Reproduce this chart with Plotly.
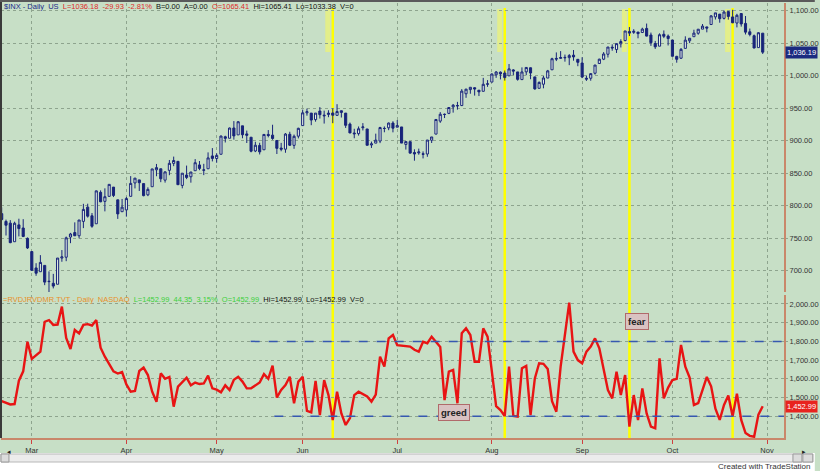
import plotly.graph_objects as go

# ---------------- DATA ----------------
months = ["Feb", "Mar", "Apr", "May", "Jun", "Jul", "Aug", "Sep", "Oct"]
trade_days = [
    [19, 20, 23, 24, 25, 26, 27],
    [2, 3, 4, 5, 6, 9, 10, 11, 12, 13, 16, 17, 18, 19, 20, 23, 24, 25, 26, 27, 30, 31],
    [1, 2, 3, 6, 7, 8, 9, 13, 14, 15, 16, 17, 20, 21, 22, 23, 24, 27, 28, 29, 30],
    [1, 4, 5, 6, 7, 8, 11, 12, 13, 14, 15, 18, 19, 20, 21, 22, 26, 27, 28, 29],
    [1, 2, 3, 4, 5, 8, 9, 10, 11, 12, 15, 16, 17, 18, 19, 22, 23, 24, 25, 26, 29, 30],
    [1, 2, 6, 7, 8, 9, 10, 13, 14, 15, 16, 17, 20, 21, 22, 23, 24, 27, 28, 29, 30, 31],
    [3, 4, 5, 6, 7, 10, 11, 12, 13, 14, 17, 18, 19, 20, 21, 24, 25, 26, 27, 28, 31],
    [1, 2, 3, 4, 8, 9, 10, 11, 14, 15, 16, 17, 18, 21, 22, 23, 24, 25, 28, 29, 30],
    [1, 2, 5, 6, 7, 8, 9, 12, 13, 14, 15, 16, 19, 20, 21, 22, 23, 26, 27, 28, 29, 30],
]
dates = [f"{m} {d}" for m, days in zip(months, trade_days) for d in days]

opens = [
    787.9, 775.9, 773.3, 744.7, 770.6, 765.8, 749.9,
    729.6, 704.4, 698.6, 708.3, 684.0, 680.8, 679.3, 719.6, 720.9, 751.9, 758.8, 753.9, 776.0, 797.9, 784.6, 772.3, 820.6, 806.8, 814.5, 828.7, 809.1, 790.9,
    793.6, 814.5, 835.1, 839.8, 834.1, 816.8, 829.3, 855.3, 856.9, 839.4, 854.5, 865.2, 868.3, 831.3, 847.3, 844.6, 853.9, 862.8, 854.5, 856.9, 876.6,
    872.7, 879.2, 906.1, 903.8, 919.6, 909.0, 922.9, 910.5, 905.4, 884.2, 892.8, 886.1, 909.7, 908.6, 900.4, 888.7, 887.0, 909.9, 892.9, 907.0,
    923.3, 942.9, 942.5, 932.5, 945.7, 938.1, 940.4, 942.7, 939.0, 943.4, 942.5, 925.6, 911.9, 910.9, 920.0, 918.1, 893.5, 896.3, 899.5, 918.8, 919.9, 927.2,
    920.8, 921.2, 894.3, 898.6, 881.9, 881.3, 880.0, 879.6, 900.8, 910.2, 930.2, 940.6, 942.1, 952.0, 953.4, 954.1, 972.2, 978.6, 981.5, 977.7, 976.0, 986.8,
    990.2, 1001.4, 1005.4, 1004.1, 999.8, 1008.9, 1005.8, 994.0, 1005.9, 1012.2, 998.2, 980.6, 986.9, 996.4, 1009.1, 1026.6, 1026.6, 1027.4, 1027.8, 1031.6, 1025.2,
    1019.5, 996.1, 996.1, 1003.8, 1018.7, 1025.4, 1033.0, 1043.9, 1040.2, 1049.0, 1054.0, 1067.9, 1066.6, 1067.1, 1066.4, 1072.7, 1062.6, 1049.5, 1045.4, 1063.7, 1061.0,
    1054.9, 1029.7, 1026.9, 1042.0, 1053.7, 1060.0, 1065.3, 1071.6, 1075.0, 1078.7, 1090.4, 1094.7, 1088.2, 1098.6, 1090.4, 1081.0, 1095.6, 1080.4, 1067.5, 1061.5, 1043.2, 1065.4,
]
highs = [
    797.6, 778.7, 777.9, 775.5, 780.1, 779.4, 751.3,
    729.6, 711.7, 724.1, 708.3, 699.1, 695.3, 719.6, 731.9, 752.6, 758.3, 774.5, 778.1, 803.0, 803.2, 788.9, 823.4, 823.7, 826.8, 832.9, 828.7, 809.1, 810.5,
    813.6, 845.6, 842.5, 839.8, 834.1, 828.4, 856.9, 864.3, 856.9, 852.9, 870.4, 875.6, 868.3, 850.1, 861.8, 852.0, 871.8, 868.8, 864.5, 882.1, 888.7,
    880.5, 907.9, 907.7, 920.3, 930.2, 930.2, 922.9, 915.6, 905.4, 898.4, 896.9, 910.0, 916.4, 924.6, 900.4, 896.7, 911.8, 913.8, 909.5, 920.0,
    947.8, 949.4, 942.5, 942.5, 951.7, 946.3, 946.9, 949.8, 956.2, 946.3, 942.5, 928.0, 918.4, 921.9, 927.1, 918.1, 898.7, 910.9, 921.4, 922.0, 928.0, 930.0,
    931.9, 921.2, 898.7, 898.6, 886.8, 887.9, 883.6, 901.1, 905.8, 933.0, 944.0, 941.9, 951.6, 956.5, 959.8, 979.4, 979.8, 982.5, 982.3, 977.8, 996.7, 993.2,
    1003.6, 1007.1, 1006.6, 1008.0, 1018.0, 1010.1, 1005.8, 1012.8, 1013.1, 1012.6, 998.2, 991.2, 999.6, 1008.9, 1027.6, 1035.8, 1037.8, 1032.5, 1033.3, 1039.5, 1025.2,
    1028.4, 1000.3, 1003.4, 1016.5, 1026.1, 1036.3, 1044.1, 1048.2, 1049.7, 1056.0, 1068.8, 1074.8, 1071.5, 1067.3, 1073.8, 1080.2, 1066.3, 1053.5, 1065.1, 1069.6, 1063.4,
    1054.9, 1030.6, 1042.6, 1060.6, 1058.0, 1070.7, 1071.5, 1079.5, 1075.3, 1093.2, 1096.6, 1094.7, 1100.2, 1098.6, 1101.4, 1095.2, 1095.8, 1091.8, 1072.5, 1063.3, 1066.8, 1065.4,
]
lows = [
    777.0, 754.3, 742.4, 744.7, 752.9, 751.8, 733.6,
    699.7, 692.3, 698.6, 677.9, 666.8, 672.9, 679.3, 713.9, 714.8, 742.5, 753.4, 749.9, 765.6, 781.8, 766.2, 772.3, 805.5, 791.4, 814.1, 813.4, 779.8, 790.9,
    783.3, 814.5, 826.7, 822.8, 814.5, 814.8, 829.3, 845.4, 836.3, 835.6, 847.0, 860.9, 832.4, 826.8, 841.0, 835.5, 853.9, 854.7, 847.1, 856.9, 868.2,
    866.1, 879.2, 897.3, 903.8, 901.7, 909.0, 903.8, 896.5, 882.2, 882.5, 878.9, 886.1, 905.2, 901.4, 879.6, 883.8, 881.5, 891.9, 887.6, 903.6,
    923.3, 938.5, 923.9, 929.3, 934.1, 926.4, 936.2, 927.0, 939.0, 935.7, 919.7, 911.6, 903.8, 907.9, 915.8, 893.0, 888.9, 896.3, 896.3, 913.0, 916.2, 912.9,
    920.8, 896.4, 886.4, 879.9, 869.3, 878.5, 872.8, 875.3, 896.5, 910.2, 927.5, 934.9, 940.9, 943.2, 947.8, 953.3, 966.0, 972.3, 969.4, 968.7, 976.0, 982.9,
    990.2, 996.7, 994.3, 992.5, 999.8, 1001.0, 992.4, 993.4, 1000.8, 994.6, 978.5, 980.6, 980.6, 996.4, 1009.1, 1022.5, 1026.2, 1021.6, 1016.2, 1023.1, 1014.6,
    996.3, 992.0, 992.3, 1001.7, 1018.7, 1024.0, 1028.0, 1038.4, 1035.0, 1043.4, 1052.9, 1061.0, 1064.3, 1057.5, 1066.4, 1060.4, 1045.9, 1041.2, 1045.4, 1057.8, 1046.5,
    1029.4, 1020.0, 1025.9, 1042.0, 1050.1, 1060.0, 1063.0, 1071.6, 1066.7, 1078.7, 1086.4, 1081.5, 1086.5, 1086.2, 1080.8, 1074.3, 1075.5, 1063.4, 1060.6, 1042.2, 1043.2, 1033.4,
]
closes = [
    778.9, 770.1, 743.3, 773.1, 764.9, 752.8, 735.1,
    700.8, 696.3, 712.9, 682.6, 683.4, 676.5, 719.6, 721.4, 750.7, 756.6, 753.9, 778.1, 794.4, 784.0, 768.5, 822.9, 806.1, 813.9, 832.9, 815.9, 787.5, 797.9,
    811.1, 834.4, 842.5, 835.5, 815.6, 825.2, 856.6, 858.7, 841.5, 852.1, 865.3, 869.6, 832.4, 850.1, 843.6, 851.9, 866.2, 857.5, 855.2, 873.6, 872.8,
    877.5, 907.2, 903.8, 919.5, 907.4, 929.2, 909.2, 908.4, 883.9, 893.1, 882.9, 909.7, 908.1, 903.5, 888.3, 887.0, 910.3, 893.1, 906.8, 919.1,
    942.9, 944.7, 931.8, 942.5, 940.1, 939.1, 942.4, 939.2, 944.9, 946.2, 923.7, 912.0, 910.7, 918.4, 921.2, 893.0, 895.1, 900.9, 920.3, 918.9, 927.2, 919.3,
    923.3, 896.4, 898.7, 881.0, 879.6, 882.7, 879.1, 901.1, 905.8, 932.7, 940.7, 940.4, 951.1, 954.6, 954.1, 976.3, 979.3, 982.2, 979.6, 975.2, 986.8, 987.5,
    1002.6, 1005.7, 1002.7, 997.1, 1010.5, 1007.1, 994.4, 1005.8, 1012.7, 1004.1, 979.7, 989.7, 996.5, 1007.4, 1026.1, 1025.6, 1028.0, 1028.1, 1031.0, 1028.9, 1020.6,
    998.0, 994.8, 1003.2, 1016.4, 1025.4, 1033.4, 1044.1, 1042.7, 1049.3, 1052.6, 1068.8, 1065.5, 1068.3, 1064.7, 1071.7, 1060.9, 1050.8, 1044.4, 1063.0, 1060.6, 1057.1,
    1029.9, 1025.2, 1040.5, 1054.7, 1057.6, 1065.5, 1071.5, 1076.2, 1073.2, 1092.0, 1096.6, 1087.7, 1097.9, 1091.1, 1081.4, 1092.9, 1079.6, 1067.0, 1063.4, 1042.6, 1066.1, 1036.2,
]
ratio = [
    1481, 1470, 1463, 1465, 1590, 1640, 1798, 1706, 1725, 1745,
    1905, 1914, 1888, 1890, 1986, 1818, 1759, 1861, 1843, 1888,
    1892, 1885, 1914, 1766, 1718, 1680, 1640, 1628, 1636, 1570,
    1531, 1535, 1642, 1660, 1620, 1531, 1477, 1629, 1600, 1610,
    1451, 1558, 1585, 1606, 1565, 1580, 1572, 1575, 1617, 1549,
    1542, 1528, 1565, 1540, 1595, 1611, 1585, 1549, 1549, 1565,
    1580, 1625, 1600, 1670, 1500, 1540, 1567, 1611, 1469, 1585,
    1611, 1428, 1420, 1589, 1406, 1593, 1513, 1379, 1531, 1415,
    1353, 1390, 1513, 1531, 1520, 1505, 1478, 1515, 1718, 1665,
    1816, 1834, 1780, 1778, 1778, 1772, 1755, 1745, 1798, 1790,
    1825, 1800, 1770, 1486, 1638, 1647, 1469, 1843, 1870, 1834,
    1691, 1691, 1870, 1825, 1638, 1454, 1433, 1401, 1665, 1401,
    1398, 1656, 1669, 1406, 1602, 1683, 1680, 1652, 1480, 1424,
    1665, 1843, 2007, 1745, 1700, 1683, 1745, 1772, 1816, 1763,
    1650, 1540, 1495, 1638, 1513, 1620, 1344, 1513, 1379, 1549,
    1415, 1344, 1335, 1709, 1495, 1553, 1593, 1600, 1781, 1665,
    1607, 1460, 1470, 1540, 1610, 1560, 1440, 1380, 1460, 1510,
    1400, 1520, 1380, 1310, 1295, 1290, 1408.64, 1452.99,
]
month_labels = ["Mar", "Apr", "May", "Jun", "Jul", "Aug", "Sep", "Oct", "Nov"]
marker_dates = ["Jun 10", "Aug 6", "Sep 17", "Oct 21"]
fear_level = 1800
greed_level = 1400
price_ticks = [700, 750, 800, 850, 900, 950, 1000, 1050, 1100]
ratio_ticks = [1400, 1500, 1600, 1700, 1800, 1900, 2000]

# ---------------- LAYOUT HELPERS ----------------
W, H = 820, 471
ML, MR, MT, MB = 1, 31, 3, 33
PW, PH = W - ML - MR, H - MT - MB


def px(x):
    return (x - ML) / PW


def py(y):
    return (H - MB - y) / PH


xs = list(range(len(dates)))
month_pos = [next(i for i, d in enumerate(dates) if d.startswith(m)) for m in month_labels[:-1]]
month_pos.append(len(dates))
marker_pos = [dates.index(d) for d in marker_dates]

BG = "#c7dfc6"
GRID = "#8ea48e"
AXIS = "#c9876a"
NAVY = "#18247a"
FONT = "Liberation Sans, Arial, sans-serif"
NARROW = "Liberation Sans Narrow, Arial Narrow, Liberation Sans, sans-serif"

fig = go.Figure()
fig.add_trace(go.Candlestick(
    x=xs, open=opens, high=highs, low=lows, close=closes,
    xaxis="x", yaxis="y",
    increasing=dict(line=dict(color=NAVY, width=1), fillcolor="#e4eee4"),
    decreasing=dict(line=dict(color=NAVY, width=1), fillcolor=NAVY),
    whiskerwidth=0, showlegend=False, hoverinfo="skip",
))
fig.add_trace(go.Scatter(
    x=xs, y=ratio, mode="lines", xaxis="x", yaxis="y2",
    line=dict(color="#e81414", width=2.4), showlegend=False, hoverinfo="skip",
))

shapes = []
shapes.append(dict(type="rect", xref="paper", yref="paper", x0=px(0), x1=px(W), y0=py(H), y1=py(453),
                   fillcolor="white", line=dict(width=0), layer="below"))
shapes.append(dict(type="rect", xref="paper", yref="paper", x0=px(1), x1=px(818), y0=py(462), y1=py(454),
                   fillcolor="#ececec", line=dict(color="#b8b8b8", width=1), layer="below"))
for a, b in [(1, 9), (798, 807), (808, 818)]:
    shapes.append(dict(type="rect", xref="paper", yref="paper", x0=px(a), x1=px(b), y0=py(462), y1=py(454),
                       fillcolor="#dcdcdc", line=dict(color="#9a9a9a", width=1), layer="below"))
shapes.append(dict(type="line", xref="paper", yref="paper", x0=px(1), x1=px(1), y0=py(438), y1=py(0),
                   line=dict(color="#3a3a3a", width=2)))
shapes.append(dict(type="line", xref="paper", yref="paper", x0=px(0), x1=px(W), y0=py(1), y1=py(1),
                   line=dict(color="#5a5a5a", width=2)))
for p in marker_pos:
    shapes.append(dict(type="line", xref="x", yref="paper", x0=p, x1=p, y0=0, y1=py(8),
                       line=dict(color="#ffff00", width=2.5), layer="below"))
    shapes.append(dict(type="rect", xref="x", yref="paper", x0=p - 1.75, x1=p - 0.6, y0=py(52), y1=py(9),
                       fillcolor="rgba(250,250,90,0.55)", line=dict(width=0), layer="below"))
shapes.append(dict(type="line", xref="x", yref="y2", x0=57.9, x1=181.94, y0=fear_level, y1=fear_level,
                   line=dict(color="#3658b0", width=1.5, dash="dash")))
shapes.append(dict(type="line", xref="x", yref="y2", x0=63.4, x1=181.94, y0=greed_level, y1=greed_level,
                   line=dict(color="#3658b0", width=1.5, dash="dash")))

annotations = [
    dict(xref="paper", yref="paper", x=px(2), y=py(6), xanchor="left", yanchor="middle", showarrow=False,
         font=dict(family=FONT, size=7.5),
         text=("<span style='color:#1a2a8a'>$INX - Daily</span>  <span style='color:#1a2a8a'>US</span>  "
               "<span style='color:#e02a2a'>L=1036.18  -29.93  -2.81%</span>  "
               "<span style='color:#111'>B=0.00  A=0.00</span>  <span style='color:#e02a2a'>O=1065.41</span>  "
               "<span style='color:#111'>Hi=1065.41  Lo=1033.38  V=0</span>")),
    dict(xref="paper", yref="paper", x=px(1), y=py(299), xanchor="left", yanchor="middle", showarrow=False,
         font=dict(family=FONT, size=7.5),
         text=("<span style='color:#e8902a'>=RVDJRVDMR.TVT - Daily  NASDAQ</span>  "
               "<span style='color:#3ccf3c'>L=1452.99  44.35  3.15%  O=1452.99</span>  "
               "<span style='color:#111'>Hi=1452.99  Lo=1452.99  V=0</span>")),
    dict(xref="paper", yref="paper", x=px(653), y=py(330), showarrow=False,
         text="<b>fear</b>", font=dict(family=FONT, size=9.5, color="#222"),
         bgcolor="#d9c2c2", bordercolor="#b06a6a", borderwidth=1, borderpad=2),
    dict(xref="paper", yref="paper", x=px(457), y=py(421), showarrow=False,
         text="<b>greed</b>", font=dict(family=FONT, size=9.5, color="#222"),
         bgcolor="#d9c2c2", bordercolor="#b06a6a", borderwidth=1, borderpad=2),
    dict(xref="paper", yref="y", x=px(790), y=closes[-1], xanchor="left", yanchor="middle", showarrow=False,
         text="1,036.19", font=dict(family=NARROW, size=7.5, color="white"), bgcolor="#1b2a80", borderpad=1),
    dict(xref="paper", yref="y2", x=px(790), y=ratio[-1], xanchor="left", yanchor="middle", showarrow=False,
         text="1,452.99", font=dict(family=NARROW, size=7.5, color="white"), bgcolor="#e8231e", borderpad=1),
    dict(xref="paper", yref="paper", x=px(818), y=py(466.5), xanchor="right", yanchor="middle", showarrow=False,
         text="Created with TradeStation", font=dict(family=NARROW, size=8, color="#333")),
    dict(xref="paper", yref="paper", x=px(5), y=py(458), showarrow=False,
         text="◂", font=dict(size=7, color="#222")),
    dict(xref="paper", yref="paper", x=px(813), y=py(458), showarrow=False,
         text="▸", font=dict(size=7, color="#222")),
]

yaxis_common = dict(
    side="right", anchor="x", showgrid=True, gridcolor=GRID, griddash="dot", gridwidth=1,
    ticks="outside", ticklen=2, tickcolor=GRID, tickformat=",.2f",
    tickfont=dict(family=NARROW, size=7.5, color="#333"),
    showline=True, linecolor=AXIS, linewidth=2, zeroline=False, fixedrange=True,
)

fig.update_layout(
    width=W, height=H,
    margin=dict(l=ML, r=MR, t=MT, b=MB),
    paper_bgcolor=BG, plot_bgcolor=BG,
    showlegend=False,
    xaxis=dict(
        domain=[0, 1], anchor="y2", range=[(ML - 1.7) / 4.327, (W - MR - 1.7) / 4.327],
        tickvals=month_pos, ticktext=month_labels,
        showgrid=True, gridcolor=GRID, griddash="dot", gridwidth=1,
        ticks="outside", ticklen=4, tickcolor="#d04040",
        tickfont=dict(family=NARROW, size=7.5, color="#333"),
        showline=True, linecolor=AXIS, linewidth=2, zeroline=False,
        rangeslider=dict(visible=False), fixedrange=True,
    ),
    yaxis=dict(domain=[py(292), 1], range=[667.4, 1111.8], tickvals=price_ticks, **yaxis_common),
    yaxis2=dict(domain=[0, py(295)], range=[1283.4, 2048], tickvals=ratio_ticks, **yaxis_common),
    shapes=shapes,
    annotations=annotations,
)

fig.write_html(
    "out.html",
    config={"displayModeBar": False},
    post_script="document.body.style.margin='0';document.body.style.overflow='hidden';",
)
